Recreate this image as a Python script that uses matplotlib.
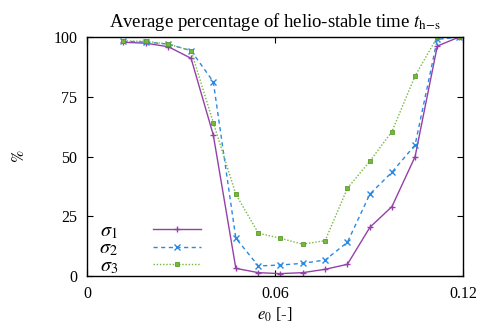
import matplotlib

matplotlib.use("Agg")
import matplotlib.pyplot as plt  # noqa: E402

plt.rcParams["font.family"] = ["Liberation Serif", "DejaVu Serif"]
plt.rcParams["mathtext.fontset"] = "stix"

# eccentricity grid
e0 = [0.0116, 0.0188, 0.0260, 0.0332, 0.0403, 0.0475, 0.0547, 0.0617,
      0.0688, 0.0760, 0.0831, 0.0903, 0.0973, 0.1047, 0.1118, 0.1188]

sigma1 = [97.8, 97.4, 95.9, 91.1, 59.0, 3.2, 1.4, 1.0,
          1.4, 2.8, 4.9, 20.4, 29.0, 49.9, 96.2, 100.0]
sigma2 = [98.2, 97.9, 97.0, 94.3, 81.3, 15.8, 4.2, 4.6,
          5.3, 6.7, 14.1, 34.3, 43.4, 54.8, 99.0, 100.0]
sigma3 = [98.3, 98.2, 97.0, 94.3, 64.2, 34.2, 17.9, 15.8,
          13.3, 14.8, 36.7, 48.1, 60.4, 83.7, 100.0, 100.0]

labels = [r"$\sigma_1$", r"$\sigma_2$", r"$\sigma_3$"]
xticks = [0, 0.06, 0.12]
xticklabels = ["0", "0.06", "0.12"]
yticks = [0, 25, 50, 75, 100]


def main():
    fig = plt.figure(figsize=(4.84, 3.28), dpi=100)
    ax = fig.add_axes([0.1798, 0.1585, 0.7768, 0.7287])

    ax.plot(e0, sigma1, color="#9440a8", lw=1.0, ls="-", marker="+",
            ms=5, mew=1.0, label=labels[0])
    ax.plot(e0, sigma2, color="#2a8ae0", lw=1.0, ls=(0, (3, 2.5)), marker="x",
            ms=4, mew=1.0, label=labels[1])
    ax.plot(e0, sigma3, color="#74b83c", lw=1.0, ls=(0, (1, 1.3)), marker="s",
            ms=3.5, mew=0.6, mec="#5a9a2a", label=labels[2])

    ax.set_xlim(0, 0.12)
    ax.set_ylim(0, 100)
    ax.set_xticks(xticks)
    ax.set_xticklabels(xticklabels)
    ax.set_yticks(yticks)
    ax.tick_params(direction="in", top=True, right=True, length=4,
                   width=0.8, labelsize=11.5, pad=7)
    for s in ax.spines.values():
        s.set_linewidth(1.0)

    ax.set_title(r"Average percentage of helio-stable time $t_{\mathrm{h\!-\!s}}$",
                 fontsize=13.5, pad=7)
    ax.set_xlabel(r"$e_0$ [-]", fontsize=12, labelpad=3)
    ax.set_ylabel(r"$\%$", fontsize=12, labelpad=18)

    ax.legend(loc="lower left", bbox_to_anchor=(-0.005, -0.06), frameon=False,
              markerfirst=False, fontsize=14.5, handlelength=2.35,
              handletextpad=1.75, labelspacing=-0.08, borderaxespad=0.3)

    fig.savefig("out.png", dpi=100)


if __name__ == "__main__":
    main()
